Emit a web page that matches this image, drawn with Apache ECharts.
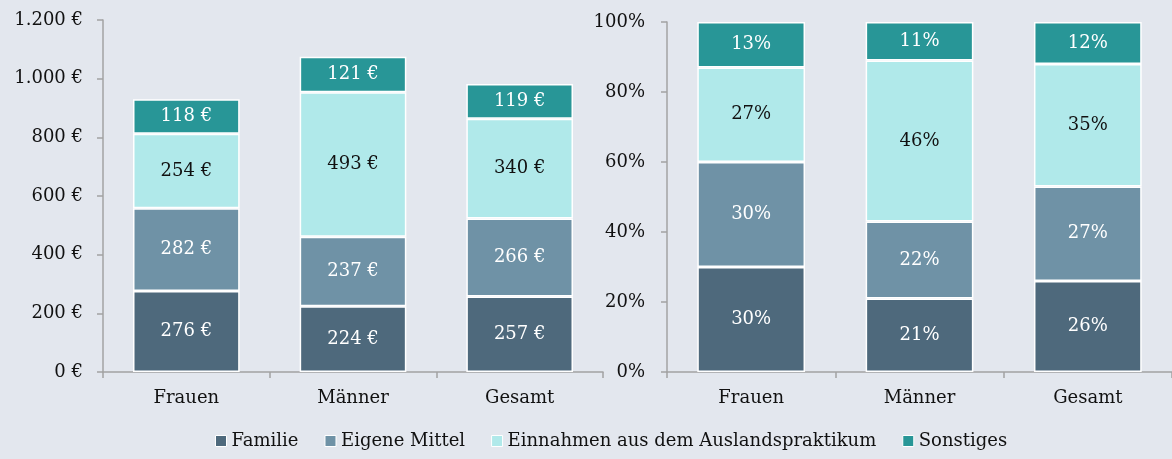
<!DOCTYPE html>
<html>
<head>
<meta charset="utf-8">
<script src="https://cdn.jsdelivr.net/npm/echarts@6/dist/echarts.min.js"></script>
<style>
  html, body { margin: 0; padding: 0; background: #e3e7ee; }
  #chart { width: 1172px; height: 459px; }
</style>
</head>
<body>
<div id="chart"></div>
<script>
// Kategorien und Werte
const categories = ['Frauen', 'Männer', 'Gesamt']
const seriesNames = ['Familie', 'Eigene Mittel', 'Einnahmen aus dem Auslandspraktikum', 'Sonstiges']

// Beträge in Euro
const familieEuro = [276, 224, 257]
const eigeneEuro = [282, 237, 266]
const einnahmenEuro = [254, 493, 340]
const sonstigesEuro = [118, 121, 119]

// Anteile in Prozent
const familiePct = [30, 21, 26]
const eigenePct = [30, 22, 27]
const einnahmenPct = [27, 46, 35]
const sonstigesPct = [13, 11, 12]

const colors = ['#4e697c', '#6f92a6', '#b0e9ea', '#289697']
const labelColors = ['#ffffff', '#ffffff', '#111111', '#ffffff']
const font = 'DejaVu Serif'
const fontSize = 18
const axisColor = '#a3a3a3'

const chart = echarts.init(document.getElementById('chart'))

const fmtEuro = (v) => {
  const s = String(v).replace(/\B(?=(\d{3})+(?!\d))/g, '.')
  return s + ' €'
}

function makeSeries(name, data, idx, axisIdx, fmt) {
  return {
    name,
    type: 'bar',
    stack: 'total' + axisIdx,
    xAxisIndex: axisIdx,
    yAxisIndex: axisIdx,
    barWidth: '64%',
    data,
    itemStyle: {
      color: colors[idx],
      borderColor: '#ffffff',
      borderWidth: 1.5
    },
    label: {
      show: true,
      position: 'inside',
      color: labelColors[idx],
      fontFamily: font,
      fontSize,
      formatter: (p) => fmt(p.value)
    },
    animation: false
  }
}

const euroData = [familieEuro, eigeneEuro, einnahmenEuro, sonstigesEuro]
const pctData = [familiePct, eigenePct, einnahmenPct, sonstigesPct]

const catAxis = (gridIndex) => ({
  type: 'category',
  gridIndex,
  data: categories,
  axisLine: { lineStyle: { color: axisColor, width: 1.5 } },
  axisTick: { show: true, length: 6, lineStyle: { color: axisColor, width: 1.5 } },
  axisLabel: { color: '#111', fontFamily: font, fontSize, margin: 17 }
})

const valAxis = (gridIndex, max, interval, margin, fmt) => ({
  type: 'value',
  gridIndex,
  min: 0,
  max,
  interval,
  splitLine: { show: false },
  axisLine: { show: true, lineStyle: { color: axisColor, width: 1.5 } },
  axisTick: { show: true, length: 6, lineStyle: { color: axisColor, width: 1.5 } },
  axisLabel: { color: '#111', fontFamily: font, fontSize, margin, formatter: fmt }
})

const option = {
  backgroundColor: '#e3e7ee',
  color: colors,
  grid: [
    { left: 103, right: 569, top: 20, bottom: 87 },
    { left: 667, right: -5, top: 22, bottom: 87 }
  ],
  legend: {
    bottom: 4,
    left: 210,
    itemWidth: 11,
    itemHeight: 11,
    itemGap: 26,
    icon: 'rect',
    itemStyle: { borderColor: '#ffffff', borderWidth: 1 },
    textStyle: { color: '#111', fontFamily: font, fontSize },
    data: seriesNames
  },
  xAxis: [catAxis(0), catAxis(1)],
  yAxis: [
    valAxis(0, 1200, 200, 20, (v) => fmtEuro(v)),
    valAxis(1, 100, 20, 22, (v) => v + '%')
  ],
  series: [
    ...euroData.map((d, i) => makeSeries(seriesNames[i], d, i, 0, fmtEuro)),
    ...pctData.map((d, i) => makeSeries(seriesNames[i], d, i, 1, (v) => v + '%'))
  ]
}

chart.setOption(option)
</script>
</body>
</html>
